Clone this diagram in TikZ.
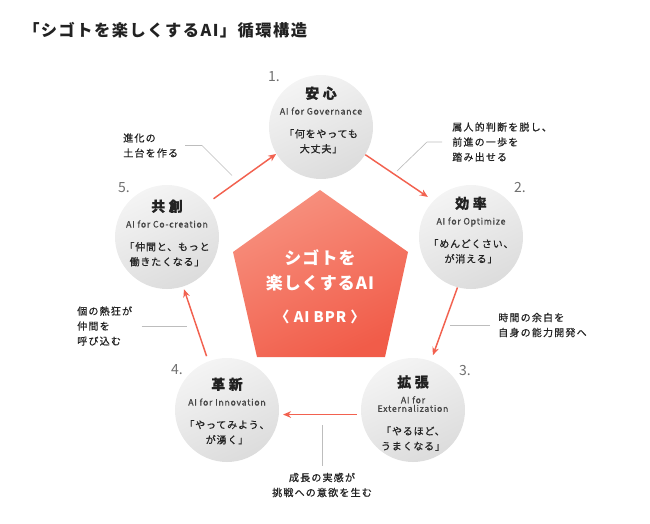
\documentclass[tikz,border=0pt]{standalone}
\usepackage{fontspec}
\setmainfont{Noto Sans CJK JP}
\usetikzlibrary{arrows.meta, positioning, calc}

\definecolor{coral}{HTML}{F2614F}
\definecolor{coraltop}{HTML}{F7917F}
\definecolor{coralbot}{HTML}{F15C49}
\definecolor{ink}{HTML}{222222}
\definecolor{subgray}{HTML}{444444}
\definecolor{numgray}{HTML}{707070}
\definecolor{leadgray}{HTML}{BDBDBD}
\definecolor{ctop}{HTML}{F4F4F4}
\definecolor{cbot}{HTML}{DCDCDC}

\begin{document}
\begin{tikzpicture}[x=0.75pt, y=-0.75pt,
        pillar/.style={circle, minimum size=78pt, inner sep=0pt, top color=ctop, bottom color=cbot, shading angle=25},
        ptext/.style={align=center, inner sep=0pt, text=ink, font=\fontsize{7.5}{11.25}\selectfont\addfontfeatures{LetterSpace=8, FakeBold=0.6}},
        note/.style={align=left, anchor=west, inner sep=0pt, text=ink, font=\fontsize{7.5}{11.25}\selectfont\addfontfeatures{LetterSpace=12, FakeBold=0.6}},
        num/.style={inner sep=0pt, text=numgray, font=\fontsize{10.5}{12}\selectfont},
        arr/.style={-{Stealth[length=6pt, width=5pt]}, coral, line width=1.1pt},
        lead/.style={leadgray, line width=0.5pt}
    ]
    \useasboundingbox (0,0) rectangle (650,524);

    % --- TITLE ---
    \node [anchor=west, inner sep=0pt, text=ink, font=\fontsize{12.2}{14}\selectfont\bfseries\addfontfeatures{LetterSpace=9}] (title) at (23,30) {「シゴトを楽しくするAI」循環構造};

    % --- CORE PENTAGON ---
    \shade [top color=coraltop, bottom color=coralbot, shading angle=25] (320,190) -- (408,252) -- (385,357) -- (257,357) -- (233,252) -- cycle;
    \node [align=center, inner sep=0pt, text=white, font=\fontsize{12.75}{18.75}\selectfont\bfseries\addfontfeatures{LetterSpace=6}] (core) at (320,287) {シゴトを\\楽しくするAI\\[6pt]{\fontsize{11}{13}\selectfont 〈 AI BPR 〉}};

    % --- FIVE PILLARS ---
    \node [pillar] (c1) at (321,127) {};
    \node [pillar] (c2) at (471,237) {};
    \node [pillar] (c3) at (413,410) {};
    \node [pillar] (c4) at (227,410) {};
    \node [pillar] (c5) at (167,237) {};

    \node [ptext] (t1) at (321,120) {{\fontsize{10.5}{12}\selectfont\bfseries\addfontfeatures{LetterSpace=25} 安心}\\[0.75pt]{\fontsize{6.6}{8}\selectfont\color{subgray} AI for Governance}\\[6pt]「何をやっても\\大丈夫」};
    \node [ptext] (t2) at (471,230) {{\fontsize{10.5}{12}\selectfont\bfseries\addfontfeatures{LetterSpace=25} 効率}\\[0.75pt]{\fontsize{6.6}{8}\selectfont\color{subgray} AI for Optimize}\\[6pt]「めんどくさい、\\が消える」};
    \node [ptext] (t3) at (413,413) {{\fontsize{10.5}{12}\selectfont\bfseries\addfontfeatures{LetterSpace=25} 拡張}\\[0.75pt]{\fontsize{6.6}{8}\selectfont\color{subgray} AI for}\\[-4.8pt]{\fontsize{6.6}{8}\selectfont\color{subgray} Externalization}\\[6pt]「やるほど、\\うまくなる」};
    \node [ptext] (t4) at (227,411) {{\fontsize{10.5}{12}\selectfont\bfseries\addfontfeatures{LetterSpace=25} 革新}\\[0.75pt]{\fontsize{6.6}{8}\selectfont\color{subgray} AI for Innovation}\\[6pt]「やってみよう、\\が湧く」};
    \node [ptext] (t5) at (167,233) {{\fontsize{10.5}{12}\selectfont\bfseries\addfontfeatures{LetterSpace=25} 共創}\\[0.75pt]{\fontsize{6.6}{8}\selectfont\color{subgray} AI for Co-creation}\\[6pt]「仲間と、もっと\\働きたくなる」};

    % Numbers
    \node [num] (n1) at (274,77) {1.};
    \node [num] (n2) at (520,188) {2.};
    \node [num] (n3) at (465,371) {3.};
    \node [num] (n4) at (177,370) {4.};
    \node [num] (n5) at (124,188) {5.};

    % --- CYCLE ARROWS ---
    \draw [arr, shorten >=5pt] (c1.-32.5) -- (c2.136);
    \draw [arr, shorten >=4.5pt] (c2.-105) -- (c3.70);
    \draw [arr, shorten <=3pt, shorten >=3pt] (c3.185) -- (c4.-5);
    \draw [arr, shorten <=4pt, shorten >=2pt] (c4.111.6) -- (c5.-72);
    \draw [arr, shorten <=6pt] (c5.40) -- (c1.211);

    % --- NOTES ---
    \node [note] (m51) at (123,145.5) {進化の\\土台を作る};
    \node [note] (m12) at (452,142) {属人的判断を脱し、\\前進の一歩を\\踏み出せる};
    \node [note] (m23) at (498,325) {時間の余白を\\自身の能力開発へ};
    \node [note, align=center, anchor=center] (m34) at (322,485) {成長の実感が\\挑戦への意欲を生む};
    \node [note] (m45) at (77,326) {個の熱狂が\\仲間を\\呼び込む};

    \draw [lead] ([xshift=5pt]m51.east) -- ++(17,0) -- ++(30,30);
    \draw [lead] ([xshift=-7.5pt]m12.west) -- ++(-15,0) -- ++(-30,29);
    \draw [lead] ([xshift=-6pt]m23.west) -- ++(-40,0);
    \draw [lead] ([yshift=5pt]m34.north) -- ++(0,-41);
    \draw [lead] ([xshift=7pt]m45.east) -- ++(45,0);

\end{tikzpicture}
\end{document}
